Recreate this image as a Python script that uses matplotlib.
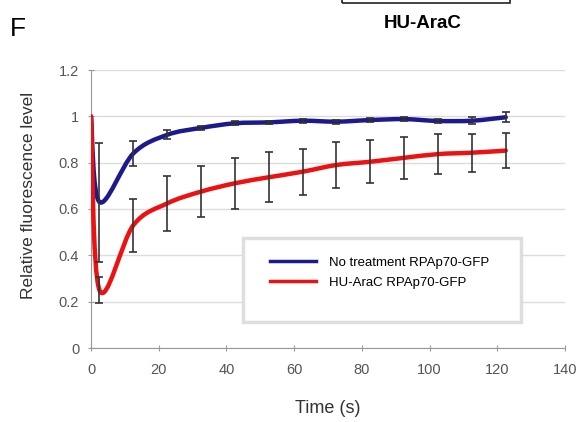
import numpy as np
import matplotlib
matplotlib.use("Agg")
import matplotlib.pyplot as plt
from matplotlib.path import Path
from matplotlib.patches import PathPatch, Rectangle
from matplotlib.lines import Line2D

plt.rcParams['font.family'] = ['Liberation Sans', 'DejaVu Sans']

# Data
time_s = [0, 2.5, 12.5, 22.5, 32.5, 42.5, 52.5, 62.5, 72.5, 82.5, 92.5, 102.5, 112.5, 122.5]
no_treatment = [1.0, 0.63, 0.84, 0.92, 0.95, 0.97, 0.974, 0.981, 0.977, 0.984, 0.988, 0.98, 0.981, 0.996]
no_treatment_err = [0, 0.257, 0.055, 0.02, 0.01, 0.008, 0.008, 0.008, 0.008, 0.008, 0.01, 0.01, 0.015, 0.022]
hu_arac = [1.0, 0.25, 0.53, 0.624, 0.675, 0.711, 0.737, 0.761, 0.79, 0.804, 0.821, 0.837, 0.843, 0.852]
hu_arac_err = [0, 0.055, 0.115, 0.118, 0.11, 0.11, 0.107, 0.1, 0.098, 0.092, 0.09, 0.087, 0.082, 0.077]
labels = ['No treatment RPAp70-GFP', 'HU-AraC RPAp70-GFP']
colors = ['#1c1a8c', '#ee1111']


def smooth_path(x, y, t=0.5):
    # Excel-like smoothed line: cubic Bezier segments through the data points
    x = np.asarray(x, float)
    y = np.asarray(y, float)
    n = len(x)
    verts = [(x[0], y[0])]
    codes = [Path.MOVETO]
    for i in range(n - 1):
        p0 = (x[max(i - 1, 0)], y[max(i - 1, 0)])
        p1 = (x[i], y[i])
        p2 = (x[i + 1], y[i + 1])
        p3 = (x[min(i + 2, n - 1)], y[min(i + 2, n - 1)])
        c1 = (p1[0] + (p2[0] - p0[0]) * t / 3, p1[1] + (p2[1] - p0[1]) * t / 3)
        c2 = (p2[0] - (p3[0] - p1[0]) * t / 3, p2[1] - (p3[1] - p1[1]) * t / 3)
        verts += [c1, c2, p2]
        codes += [Path.CURVE4] * 3
    return Path(verts, codes)


fig = plt.figure(figsize=(5.8, 4.22), dpi=100)
ax = fig.add_axes([91 / 580, 74 / 422, 474 / 580, 278 / 422])

for ys, es, c in [(no_treatment, no_treatment_err, colors[0]), (hu_arac, hu_arac_err, colors[1])]:
    ax.add_patch(PathPatch(smooth_path(time_s, ys), fill=False, edgecolor=c, lw=3.2,
                           capstyle='round', joinstyle='round', zorder=3))
    ax.errorbar(time_s[1:], ys[1:], yerr=es[1:], fmt='none', ecolor='#333333',
                elinewidth=1.2, capsize=3, capthick=1.2, zorder=4)

ax.set_xlim(0, 140)
ax.set_ylim(0, 1.2)
ax.set_xticks(range(0, 141, 20))
ax.set_yticks([0, 0.2, 0.4, 0.6, 0.8, 1, 1.2])
ax.set_yticklabels(['0', '0.2', '0.4', '0.6', '0.8', '1', '1.2'])
ax.yaxis.grid(True, color='#dcdcdc', lw=1)
ax.set_axisbelow(True)
for s in ['top', 'right']:
    ax.spines[s].set_visible(False)
for s in ['left', 'bottom']:
    ax.spines[s].set_color('#999999')
ax.tick_params(direction='inout', length=5, color='#999999', labelsize=10.5,
               labelcolor='#555555', pad=6)
ax.tick_params(axis='x', pad=8)

ax.set_xlabel('Time (s)', fontsize=13, color='#333333', labelpad=17)
ax.set_ylabel('Relative fluorescence level', fontsize=12.5, color='#333333')
ax.yaxis.set_label_coords(-0.115, 0.55)

# legend box
fig.add_artist(Rectangle((243 / 580, 1 - 322 / 422), 278 / 580, 84 / 422,
                         transform=fig.transFigure, facecolor='white',
                         edgecolor='#dedede', lw=2.5, zorder=5))
handles = [Line2D([], [], color=c, lw=2.5) for c in colors]
fig.legend(handles, labels, loc='upper left', bbox_to_anchor=(258 / 580, 1 - 245 / 422),
           frameon=False, fontsize=9.5, handlelength=3.5, labelspacing=0.55,
           handletextpad=1.0).set_zorder(6)

fig.text(10 / 580, 1 - 29 / 422, 'F', fontsize=19, va='center', ha='left')
fig.text(423 / 580, 1 - 24 / 422, 'HU-AraC', fontsize=13.5, fontweight='bold',
         va='center', ha='center')
fig.add_artist(Rectangle((342 / 580, 1 - 3 / 422), 168 / 580, 10 / 422,
                         transform=fig.transFigure, facecolor='none',
                         edgecolor='#222222', lw=1.2))

fig.savefig('out.png', dpi=100)
